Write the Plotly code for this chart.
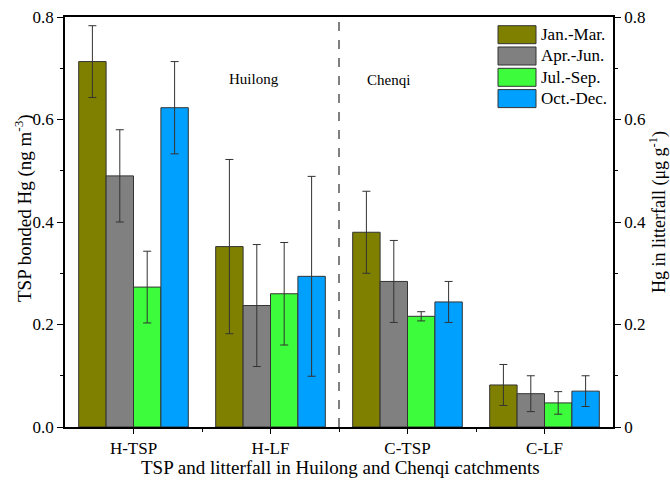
import plotly.graph_objects as go

categories = ["H-TSP", "H-LF", "C-TSP", "C-LF"]
series_names = ["Jan.-Mar.", "Apr.-Jun.", "Jul.-Sep.", "Oct.-Dec."]
colors = ["#808000", "#808080", "#3cfc3c", "#00a0ff"]

jan_mar = [0.713, 0.352, 0.380, 0.082]
apr_jun = [0.490, 0.237, 0.284, 0.065]
jul_sep = [0.273, 0.260, 0.216, 0.047]
oct_dec = [0.623, 0.294, 0.244, 0.070]

jan_mar_err = [0.070, 0.170, 0.080, 0.040]
apr_jun_err = [0.090, 0.119, 0.080, 0.035]
jul_sep_err = [0.070, 0.100, 0.009, 0.022]
oct_dec_err = [0.090, 0.195, 0.040, 0.030]

left_ticks = [0.0, 0.2, 0.4, 0.6, 0.8]
left_ticktext = ["0.0", "0.2", "0.4", "0.6", "0.8"]
right_ticktext = ["0", "0.2", "0.4", "0.6", "0.8"]

values = [jan_mar, apr_jun, jul_sep, oct_dec]
errors = [jan_mar_err, apr_jun_err, jul_sep_err, oct_dec_err]

FONT = "Liberation Serif, Times New Roman, serif"
W, H = 670, 482
ML, MR, MT, MB = 65, 57, 17, 55

fig = go.Figure()
for name, col, v, e in zip(series_names, colors, values, errors):
    fig.add_trace(go.Bar(
        x=list(range(len(categories))), y=v, name=name,
        marker=dict(color=col, line=dict(color="#333333", width=1)),
        error_y=dict(type="data", array=e, visible=True, color="#333333",
                     thickness=1, width=4),
        showlegend=False,
    ))

fig.add_trace(go.Scatter(x=[0], y=[0], yaxis="y2", mode="markers",
                         marker=dict(opacity=0), showlegend=False, hoverinfo="skip"))

fig.update_layout(
    width=W, height=H,
    margin=dict(l=ML, r=MR, t=MT, b=MB, autoexpand=False),
    paper_bgcolor="white", plot_bgcolor="white",
    font=dict(family=FONT, size=17, color="black"),
    barmode="group", bargap=0.2, bargroupgap=0,
    xaxis=dict(
        range=[-0.5, len(categories) - 0.5], automargin=False,
        tickvals=list(range(len(categories))), ticktext=categories,
        ticks="outside", ticklen=5, tickcolor="black", tickwidth=1,
        minor=dict(tickvals=[i + 0.5 for i in range(len(categories) - 1)],
                   ticks="outside", ticklen=3, tickcolor="black"),
        showline=True, linecolor="black", linewidth=1.5, mirror=True,
        showgrid=False, zeroline=False,
        tickfont=dict(size=17),
    ),
    yaxis=dict(
        range=[0, 0.8], automargin=False,
        tickvals=left_ticks, ticktext=left_ticktext,
        ticks="outside", ticklen=6, tickcolor="black", tickwidth=1,
        minor=dict(dtick=0.1, ticks="outside", ticklen=3, tickcolor="black"),
        showline=True, linecolor="black", linewidth=1.5,
        showgrid=False, zeroline=False,
        tickfont=dict(size=17),
    ),
    yaxis2=dict(
        range=[0, 0.8], overlaying="y", side="right", automargin=False,
        tickvals=left_ticks, ticktext=right_ticktext,
        ticks="outside", ticklen=6, tickcolor="black", tickwidth=1,
        minor=dict(dtick=0.1, ticks="outside", ticklen=3, tickcolor="black"),
        showline=True, linecolor="black", linewidth=1.5,
        showgrid=False, zeroline=False,
        tickfont=dict(size=17),
    ),
)

def px_x(x):
    return (x - ML) / (W - ML - MR)

def px_y(y):
    return 1 - (y - MT) / (H - MT - MB)

# axis titles
fig.add_annotation(text="TSP and litterfall in Huilong and Chenqi catchments",
                   x=px_x(340), y=px_y(467), xref="paper", yref="paper",
                   showarrow=False, font=dict(size=19), yanchor="middle")
fig.add_annotation(text="TSP bonded Hg (ng m<sup>-3</sup>)", textangle=-90,
                   x=px_x(23), y=px_y(208), xref="paper", yref="paper",
                   showarrow=False, font=dict(size=19), xanchor="center", yanchor="middle")
fig.add_annotation(text="Hg in litterfall (μg g<sup>-1</sup>)", textangle=-90,
                   x=px_x(658), y=px_y(212), xref="paper", yref="paper",
                   showarrow=False, font=dict(size=18), xanchor="center", yanchor="middle")

# dashed divider between catchments
fig.add_shape(type="line", xref="x", yref="paper",
              x0=(len(categories) - 1) / 2, x1=(len(categories) - 1) / 2, y0=0, y1=1,
              line=dict(color="black", width=1, dash="dash"))

fig.add_annotation(text="Huilong", x=px_x(254), y=px_y(69), xref="paper", yref="paper",
                   showarrow=False, font=dict(size=15))
fig.add_annotation(text="Chenqi", x=px_x(388), y=px_y(70), xref="paper", yref="paper",
                   showarrow=False, font=dict(size=15))

# custom legend
row_top_px = [25.7, 47.0, 68.3, 89.6]
for name, col, ty in zip(series_names, colors, row_top_px):
    yt = px_y(ty)
    yb = px_y(ty + 18)
    fig.add_shape(type="rect", xref="paper", yref="paper",
                  x0=px_x(498), x1=px_x(536), y0=yb, y1=yt,
                  fillcolor=col, line=dict(color="#333333", width=1))
    fig.add_annotation(text=name, x=px_x(539), y=(yt + yb) / 2, xref="paper", yref="paper",
                       xanchor="left", yanchor="middle", showarrow=False,
                       font=dict(size=17))

fig.write_html("out.html", config={"displayModeBar": False},
               post_script="document.body.style.margin='0';document.body.style.overflow='hidden';")
